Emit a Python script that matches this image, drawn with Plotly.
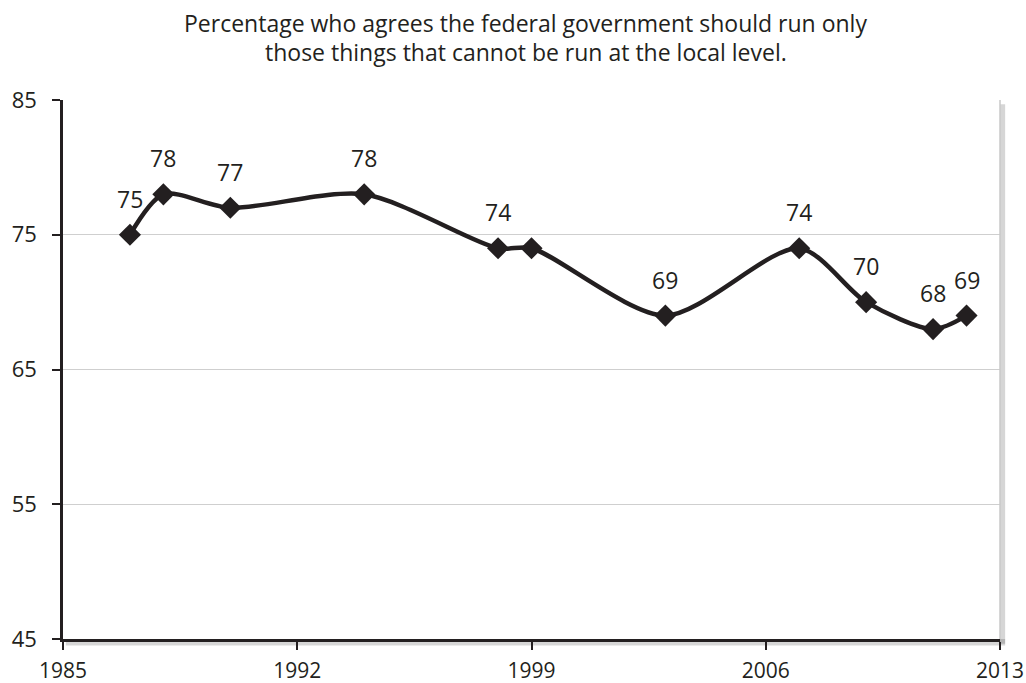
import plotly.graph_objects as go

years = [1987, 1988, 1990, 1994, 1998, 1999, 2003, 2007, 2009, 2011, 2012]
values = [75, 78, 77, 78, 74, 74, 69, 74, 70, 68, 69]
labels = ["75", "78", "77", "78", "74", "", "69", "74", "70", "68", "69"]

title_lines = ["Percentage who agrees the federal government should run only",
               "those things that cannot be run at the local level."]
x_ticks = [1985, 1992, 1999, 2006, 2013]
y_ticks = [45, 55, 65, 75, 85]

ink = "#231f20"
font_family = "Open Sans, Noto Sans, sans-serif"

fig = go.Figure()
fig.add_trace(go.Scatter(
    x=years, y=values, mode="lines+markers",
    line=dict(color=ink, width=4.5, shape="spline", smoothing=0.8),
    marker=dict(symbol="diamond", size=17, color=ink),
    hoverinfo="skip", showlegend=False,
))

for xv, yv, lab in zip(years, values, labels):
    if lab:
        fig.add_annotation(x=xv, y=yv, text=lab, showarrow=False,
                           yanchor="middle", yshift=36,
                           font=dict(family=font_family, size=23, color=ink))

# title as two centred lines
plot_bottom, plot_h = 639, 539
for line, ypx in zip(title_lines, [23, 52]):
    fig.add_annotation(xref="paper", yref="paper", x=0.494, y=(plot_bottom - ypx) / plot_h,
                       text=line, showarrow=False, xanchor="center", yanchor="middle",
                       font=dict(family=font_family, size=23, color=ink))

# drop shadow of plot area
fig.add_shape(type="rect", xref="paper", yref="paper", x0=1.0, x1=1.0055,
              y0=-0.009, y1=0.992, fillcolor="rgba(0,0,0,0.16)", line_width=0, layer="below")
fig.add_shape(type="rect", xref="paper", yref="paper", x0=0.003, x1=1.0055,
              y0=-0.012, y1=0.0, fillcolor="rgba(0,0,0,0.16)", line_width=0, layer="below")
# right border
fig.add_shape(type="line", xref="paper", yref="paper", x0=1, x1=1, y0=0, y1=1,
              line=dict(color="#c8c8c8", width=1.5))

fig.update_layout(
    width=1026, height=683,
    margin=dict(l=63, r=26, t=100, b=44, autoexpand=False),
    paper_bgcolor="white", plot_bgcolor="white",
    font=dict(family=font_family, color=ink),
)
fig.update_xaxes(
    range=[1985, 2013], tickvals=x_ticks, ticktext=[str(t) for t in x_ticks],
    showgrid=False, zeroline=False, showline=True, linecolor=ink, linewidth=2.5,
    ticks="outside", ticklen=8, tickwidth=2, tickcolor=ink, automargin=False,
    tickfont=dict(size=21, color=ink), ticklabelstandoff=3,
)
fig.update_yaxes(
    range=[45, 85], tickvals=y_ticks, ticktext=[str(t) for t in y_ticks],
    showgrid=True, gridcolor="#cfcfcf", gridwidth=1.2, zeroline=False,
    showline=True, linecolor=ink, linewidth=2.5, automargin=False,
    ticks="outside", ticklen=8, tickwidth=2, tickcolor=ink,
    tickfont=dict(size=22, color=ink), ticklabelstandoff=11,
)

fig.write_html("out.html", config={"displayModeBar": False},
               post_script="document.body.style.margin='0';document.body.style.overflow='hidden';")
